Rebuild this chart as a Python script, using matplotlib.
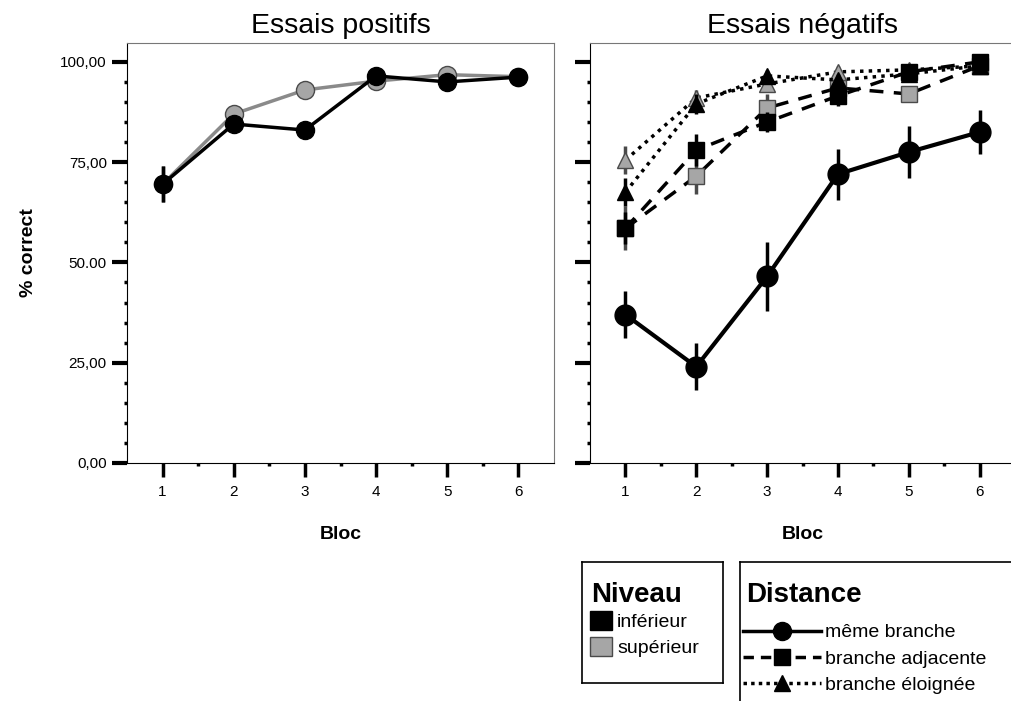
import matplotlib
matplotlib.use('Agg')
import matplotlib.pyplot as plt
from matplotlib.lines import Line2D
from matplotlib.patches import Patch
import numpy as np

plt.rcParams['font.family'] = ['Liberation Sans', 'DejaVu Sans']

blocs = [1, 2, 3, 4, 5, 6]

# Essais positifs
pos_inf = [69.5, 84.5, 83.0, 96.5, 95.0, 96.2]
pos_inf_err = [4.5, 1.5, 1.5, 1.0, 1.0, 1.0]
pos_sup = [69.5, 87.0, 93.0, 95.2, 96.8, 96.3]
pos_sup_err = [4.5, 1.5, 1.5, 1.0, 1.0, 1.0]

# Essais négatifs
meme_inf = [37.0, 24.0, 46.5, 72.0, 77.5, 82.5]
meme_inf_err = [5.8, 5.8, 8.5, 6.4, 6.4, 5.4]
adj_inf = [58.5, 78.0, 85.0, 91.5, 97.5, 100.0]
adj_inf_err = [4.0, 4.0, 2.5, 2.5, 2.0, 1.0]
adj_sup = [58.5, 71.5, 88.5, 93.5, 92.0, 99.0]
adj_sup_err = [5.5, 4.5, 3.5, 2.5, 2.0, 1.0]
elo_inf = [67.5, 89.5, 96.5, 95.5, 97.0, 99.0]
elo_inf_err = [3.5, 2.5, 1.5, 1.5, 1.5, 1.0]
elo_sup = [75.5, 91.0, 94.5, 97.5, 98.0, 99.0]
elo_sup_err = [3.5, 2.0, 2.0, 1.5, 1.5, 1.0]

ytick_vals = [0, 25, 50, 75, 100]
ytick_labels = ['0,00', '25,00', '50.00', '75,00', '100,00']

BLACK = 'black'
GRAY = '#a6a6a6'
GRAY_LINE = '#8a8a8a'
GRAY_EDGE = '#4a4a4a'

W, H = 1011, 701
fig = plt.figure(figsize=(W / 100, H / 100), dpi=100)
axL = fig.add_axes([127 / W, 1 - 463 / H, 427 / W, 420 / H])
axR = fig.add_axes([590 / W, 1 - 463 / H, 425 / W, 420 / H])


def style_axis(ax, labels):
    ax.set_xlim(0.5, 6.5)
    ax.set_ylim(0, 104.7)
    ax.set_xticks(blocs)
    ax.set_xticks([1.5, 2.5, 3.5, 4.5, 5.5], minor=True)
    ax.set_yticks(ytick_vals)
    ax.set_yticks(np.arange(5, 100, 5), minor=True)
    for s in ['top', 'right']:
        ax.spines[s].set_color('#777777')
        ax.spines[s].set_linewidth(0.8)
    for s in ['left', 'bottom']:
        ax.spines[s].set_linewidth(0.8)
    ax.tick_params(axis='y', which='major', direction='out', length=11, width=3)
    ax.tick_params(axis='x', which='major', direction='out', length=10, width=2.5, pad=6)
    ax.tick_params(which='minor', direction='out', length=2.5, width=2.5)
    ax.tick_params(labelsize=11)
    if labels:
        ax.set_yticklabels(ytick_labels)
    else:
        ax.set_yticklabels([])
    ax.set_xlabel('Bloc', fontsize=14, fontweight='bold', labelpad=19)


def series(ax, y, err, color, line_color, ls, marker, ms, edge, lw=2.5, z=3):
    ax.errorbar(blocs, y, yerr=err, color=line_color, ecolor=BLACK if color == BLACK else GRAY_EDGE,
                elinewidth=2.5, capsize=0, linestyle=ls, linewidth=lw, marker=marker,
                markersize=ms, markerfacecolor=color, markeredgecolor=edge,
                markeredgewidth=1.0, zorder=z, clip_on=False)


# left panel
style_axis(axL, True)
series(axL, pos_sup, pos_sup_err, GRAY, GRAY_LINE, '-', 'o', 13, GRAY_EDGE, z=3)
series(axL, pos_inf, pos_inf_err, BLACK, BLACK, '-', 'o', 13, BLACK, z=4)
axL.set_title('Essais positifs', fontsize=20.5, pad=7)
axL.set_ylabel('% correct', fontsize=14, fontweight='bold', labelpad=17)

# right panel
style_axis(axR, False)
axR.spines['right'].set_visible(False)
series(axR, adj_sup, adj_sup_err, GRAY, BLACK, (0, (4, 3)), 's', 12, GRAY_EDGE, z=3)
series(axR, elo_sup, elo_sup_err, GRAY, BLACK, (0, (1, 1.5)), '^', 12, GRAY_EDGE, z=3)
series(axR, adj_inf, adj_inf_err, BLACK, BLACK, (0, (4, 3)), 's', 12, BLACK, z=4)
series(axR, elo_inf, elo_inf_err, BLACK, BLACK, (0, (1, 1.5)), '^', 12, BLACK, z=4)
series(axR, meme_inf, meme_inf_err, BLACK, BLACK, '-', 'o', 15, BLACK, lw=3, z=5)
axR.set_title('Essais négatifs', fontsize=20.5, pad=7)

# legend: Niveau
axN = fig.add_axes([582 / W, 1 - 683 / H, 141 / W, 121 / H])
axN.set_xticks([])
axN.set_yticks([])
for s in axN.spines.values():
    s.set_linewidth(1.2)
fig.text(591 / W, 1 - 602 / H, 'Niveau', fontsize=20, fontweight='bold', va='baseline')
niv_handles = [Patch(facecolor=BLACK, edgecolor=BLACK, label='inférieur'),
               Patch(facecolor=GRAY, edgecolor=GRAY_EDGE, label='supérieur')]
fig.legend(handles=niv_handles, loc='center left', bbox_to_anchor=(590 / W, 1 - 634 / H),
           frameon=False, fontsize=14, handlelength=1.15, handleheight=1.15, handletextpad=0.25,
           labelspacing=0.3, borderaxespad=0, borderpad=0)

# legend: Distance
axD = fig.add_axes([740 / W, -0.05, 0.3, 1 - 562 / H + 0.05])
axD.set_xticks([])
axD.set_yticks([])
axD.spines['right'].set_visible(False)
axD.spines['bottom'].set_visible(False)
for s in ['left', 'top']:
    axD.spines[s].set_linewidth(1.2)
fig.text(746 / W, 1 - 602 / H, 'Distance', fontsize=20, fontweight='bold', va='baseline')
dist_handles = [Line2D([], [], color=BLACK, lw=2.5, ls='-', marker='o', markersize=13, label='même branche'),
                Line2D([], [], color=BLACK, lw=2.5, ls=(0, (3, 2)), marker='s', markersize=12, label='branche adjacente'),
                Line2D([], [], color=BLACK, lw=2.5, ls=(0, (1, 1.2)), marker='^', markersize=12, label='branche éloignée')]
fig.legend(handles=dist_handles, loc='center left', bbox_to_anchor=(743 / W, 1 - 659 / H),
           frameon=False, fontsize=14, handlelength=4.0, handletextpad=0.2, labelspacing=0.45,
           borderaxespad=0, borderpad=0)

fig.savefig('out.png', dpi=100)
